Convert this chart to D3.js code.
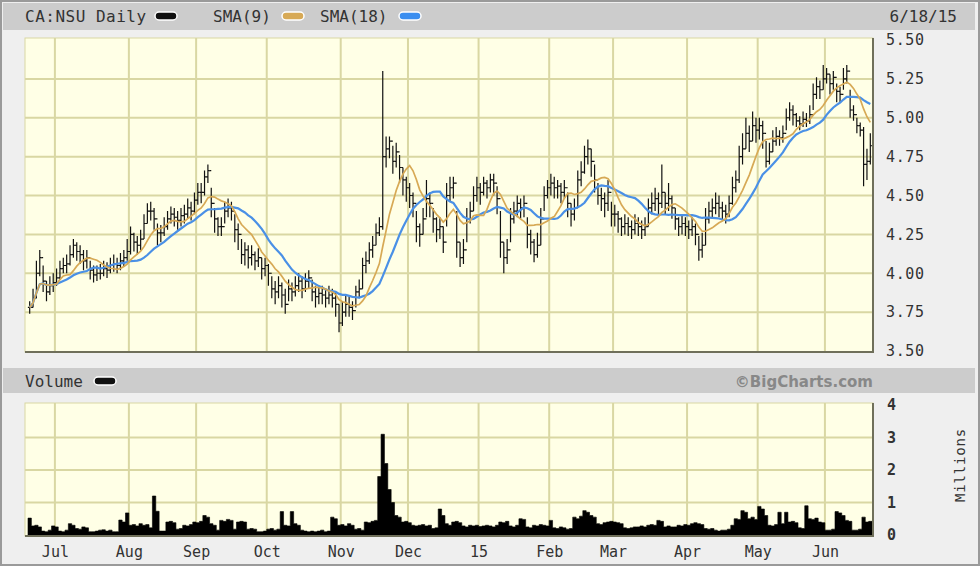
<!DOCTYPE html>
<html><head><meta charset="utf-8">
<script src="https://cdn.jsdelivr.net/npm/d3@7/dist/d3.min.js"></script>
<style>
html,body{margin:0;padding:0;background:#efefef;}
svg{display:block;}
text{font-family:"DejaVu Sans Mono",monospace;}
</style></head>
<body><svg id="c" width="980" height="566"></svg>
<script>
// ---------- DATA ----------
const symbol = "CA:NSU Daily";
const dateLabel = "6/18/15";
const firstDay = "2014-06-19", lastDay = "2015-06-18";
const holidays = ["2014-07-01","2014-08-04","2014-09-01","2014-10-13","2014-12-25","2014-12-26",
                  "2015-01-01","2015-02-16","2015-04-03","2015-05-18"];
const monthLabels = ["Jul","Aug","Sep","Oct","Nov","Dec","15","Feb","Mar","Apr","May","Jun"];
const priceTicks = [3.50,3.75,4.00,4.25,4.50,4.75,5.00,5.25,5.50];
const volumeTicks = [0,1,2,3,4];

const close = [
3.78,3.84,4.00,4.10,3.95,3.88,3.92,3.94,3.97,4.03,
4.05,4.06,4.12,4.18,4.14,4.12,4.08,4.10,4.02,3.99,
4.00,4.00,4.03,4.02,4.05,4.06,4.05,4.08,4.10,4.14,
4.25,4.20,4.18,4.22,4.32,4.40,4.40,4.35,4.26,4.26,
4.30,4.35,4.38,4.36,4.34,4.37,4.38,4.42,4.40,4.47,
4.52,4.52,4.62,4.66,4.45,4.35,4.30,4.30,4.40,4.42,
4.40,4.28,4.25,4.12,4.15,4.10,4.12,4.08,4.10,4.03,
4.05,4.00,3.90,3.88,3.92,3.86,3.80,3.90,3.88,3.92,
3.95,3.90,3.95,3.97,3.88,3.85,3.87,3.86,3.84,3.86,
3.84,3.80,3.68,3.75,3.80,3.78,3.76,3.88,3.90,4.05,
4.08,4.15,4.18,4.26,4.30,4.75,4.80,4.85,4.72,4.78,
4.68,4.60,4.55,4.50,4.45,4.30,4.25,4.35,4.48,4.45,
4.35,4.28,4.30,4.20,4.50,4.55,4.58,4.20,4.10,4.15,
4.35,4.40,4.50,4.55,4.52,4.58,4.55,4.60,4.58,4.48,
4.20,4.10,4.15,4.35,4.40,4.45,4.42,4.45,4.25,4.20,
4.12,4.18,4.35,4.50,4.55,4.58,4.55,4.56,4.52,4.55,
4.45,4.38,4.42,4.60,4.65,4.75,4.80,4.72,4.60,4.50,
4.48,4.45,4.52,4.38,4.38,4.35,4.30,4.32,4.30,4.28,
4.32,4.30,4.28,4.30,4.42,4.45,4.48,4.45,4.52,4.45,
4.48,4.42,4.35,4.30,4.32,4.30,4.28,4.30,4.25,4.15,
4.18,4.35,4.40,4.42,4.45,4.42,4.40,4.38,4.45,4.55,
4.60,4.75,4.80,4.90,4.85,4.95,4.92,4.95,4.90,4.72,
4.78,4.85,4.88,4.87,4.90,5.00,5.05,5.02,4.98,4.96,
4.99,4.98,5.02,5.15,5.20,5.18,5.25,5.28,5.22,5.26,
5.17,5.15,5.25,5.30,5.05,5.02,4.95,4.92,4.70,4.72,
4.82];

const high = [
3.82,3.90,4.08,4.15,4.05,3.95,3.98,4.00,4.03,4.08,
4.10,4.12,4.18,4.22,4.20,4.18,4.15,4.15,4.08,4.05,
4.05,4.06,4.08,4.07,4.10,4.12,4.10,4.13,4.15,4.22,
4.30,4.26,4.24,4.28,4.38,4.45,4.46,4.42,4.32,4.31,
4.36,4.40,4.43,4.42,4.40,4.42,4.44,4.48,4.46,4.52,
4.58,4.58,4.66,4.70,4.55,4.42,4.36,4.36,4.46,4.48,
4.46,4.38,4.32,4.22,4.20,4.18,4.18,4.14,4.16,4.10,
4.10,4.06,3.98,3.95,3.98,3.94,3.90,3.96,3.94,3.98,
4.00,3.98,4.00,4.02,3.96,3.92,3.92,3.92,3.90,3.92,
3.90,3.88,3.80,3.82,3.86,3.85,3.82,3.92,3.96,4.10,
4.14,4.20,4.24,4.32,4.36,5.30,4.88,4.88,4.82,4.84,
4.76,4.68,4.62,4.58,4.52,4.40,4.32,4.42,4.60,4.52,
4.42,4.36,4.36,4.30,4.58,4.62,4.62,4.40,4.20,4.22,
4.42,4.46,4.56,4.62,4.58,4.62,4.60,4.64,4.64,4.56,
4.40,4.20,4.22,4.42,4.46,4.50,4.48,4.50,4.36,4.28,
4.22,4.26,4.42,4.56,4.60,4.64,4.62,4.60,4.58,4.60,
4.52,4.45,4.48,4.66,4.72,4.82,4.86,4.80,4.70,4.58,
4.55,4.52,4.60,4.46,4.44,4.40,4.36,4.38,4.36,4.34,
4.38,4.36,4.34,4.36,4.48,4.52,4.55,4.52,4.70,4.52,
4.58,4.50,4.42,4.36,4.38,4.36,4.34,4.36,4.32,4.24,
4.26,4.42,4.46,4.48,4.52,4.50,4.46,4.44,4.50,4.62,
4.66,4.82,4.90,5.00,4.95,5.04,5.00,5.00,4.98,4.85,
4.84,4.92,4.94,4.92,4.95,5.06,5.10,5.08,5.03,5.01,
5.04,5.03,5.08,5.22,5.26,5.24,5.34,5.32,5.28,5.30,
5.22,5.20,5.32,5.34,5.18,5.08,5.00,4.97,4.94,4.80,
4.90];

const low = [
3.74,3.78,3.84,3.98,3.88,3.82,3.86,3.88,3.92,3.96,
4.00,4.00,4.05,4.10,4.08,4.06,4.02,4.03,3.96,3.94,
3.95,3.96,3.98,3.97,4.00,4.01,4.00,4.02,4.04,4.08,
4.12,4.14,4.12,4.15,4.22,4.32,4.34,4.28,4.18,4.20,
4.24,4.28,4.32,4.30,4.28,4.30,4.32,4.35,4.34,4.38,
4.44,4.45,4.50,4.58,4.36,4.26,4.24,4.24,4.32,4.36,
4.34,4.20,4.15,4.06,4.05,4.03,4.05,4.02,4.04,3.96,
3.98,3.92,3.84,3.80,3.84,3.78,3.74,3.82,3.82,3.85,
3.88,3.84,3.88,3.90,3.82,3.78,3.80,3.80,3.78,3.80,
3.78,3.72,3.62,3.66,3.72,3.72,3.70,3.78,3.84,3.90,
4.00,4.06,4.10,4.18,4.24,4.28,4.68,4.74,4.64,4.68,
4.58,4.50,4.46,4.42,4.36,4.20,4.17,4.25,4.36,4.36,
4.26,4.20,4.22,4.13,4.30,4.46,4.48,4.10,4.04,4.06,
4.20,4.32,4.40,4.46,4.44,4.50,4.48,4.52,4.50,4.38,
4.10,4.00,4.06,4.20,4.32,4.36,4.35,4.36,4.16,4.12,
4.07,4.10,4.18,4.40,4.48,4.50,4.48,4.48,4.45,4.48,
4.36,4.30,4.34,4.42,4.56,4.64,4.70,4.62,4.52,4.44,
4.40,4.36,4.40,4.30,4.30,4.26,4.24,4.25,4.24,4.22,
4.25,4.24,4.22,4.24,4.30,4.38,4.40,4.38,4.42,4.38,
4.40,4.35,4.28,4.24,4.25,4.24,4.22,4.24,4.18,4.08,
4.10,4.18,4.32,4.35,4.38,4.36,4.34,4.32,4.36,4.44,
4.52,4.58,4.70,4.80,4.78,4.85,4.84,4.86,4.80,4.68,
4.70,4.78,4.82,4.82,4.84,4.92,4.98,4.95,4.94,4.92,
4.94,4.94,4.96,5.05,5.12,5.12,5.18,5.22,5.15,5.18,
5.10,5.10,5.18,5.22,5.00,4.98,4.90,4.88,4.56,4.60,
4.70];

// volume in millions of shares
const volume = [
0.52,0.28,0.30,0.25,0.12,0.10,0.15,0.28,0.25,0.12,
0.10,0.15,0.35,0.30,0.20,0.18,0.25,0.22,0.10,0.10,
0.12,0.15,0.16,0.12,0.15,0.10,0.10,0.46,0.40,0.68,
0.30,0.32,0.28,0.35,0.30,0.32,0.22,1.20,0.73,0.12,
0.12,0.40,0.42,0.38,0.18,0.20,0.30,0.28,0.32,0.40,
0.38,0.42,0.60,0.55,0.35,0.30,0.15,0.45,0.42,0.48,
0.45,0.18,0.40,0.42,0.40,0.18,0.20,0.18,0.10,0.10,
0.12,0.18,0.20,0.15,0.18,0.72,0.30,0.28,0.72,0.35,
0.30,0.15,0.12,0.10,0.12,0.10,0.12,0.15,0.10,0.12,
0.55,0.50,0.30,0.32,0.28,0.35,0.30,0.18,0.20,0.15,
0.40,0.38,0.42,0.45,1.80,3.10,2.20,1.40,1.00,0.60,
0.55,0.40,0.42,0.38,0.30,0.28,0.30,0.32,0.28,0.30,
0.20,0.22,0.80,0.60,0.35,0.30,0.40,0.42,0.38,0.28,
0.25,0.30,0.28,0.30,0.26,0.28,0.30,0.28,0.25,0.30,
0.40,0.38,0.42,0.28,0.25,0.30,0.50,0.48,0.25,0.22,
0.30,0.28,0.32,0.30,0.28,0.45,0.22,0.20,0.25,0.22,
0.18,0.20,0.55,0.50,0.58,0.75,0.70,0.60,0.55,0.35,
0.32,0.38,0.40,0.42,0.40,0.38,0.35,0.22,0.20,0.22,
0.25,0.25,0.28,0.25,0.30,0.32,0.30,0.45,0.42,0.25,
0.28,0.25,0.25,0.30,0.28,0.32,0.30,0.35,0.38,0.35,
0.32,0.20,0.18,0.20,0.15,0.12,0.15,0.15,0.18,0.30,
0.50,0.48,0.75,0.70,0.50,0.55,0.48,0.88,0.80,0.60,
0.30,0.28,0.32,0.70,0.35,0.70,0.40,0.42,0.38,0.22,
0.20,0.90,0.50,0.48,0.52,0.40,0.38,0.15,0.15,0.18,
0.72,0.68,0.60,0.45,0.42,0.15,0.15,0.18,0.55,0.40,
0.42];

// ---------- BUILD ----------
const parse = d3.timeParse("%Y-%m-%d"), fmt = d3.timeFormat("%Y-%m-%d");
const hol = new Set(holidays);
let dates = d3.timeDay.range(parse(firstDay), d3.timeDay.offset(parse(lastDay), 1))
  .filter(d => d.getDay() !== 0 && d.getDay() !== 6 && !hol.has(fmt(d)));
const N = Math.min(dates.length, close.length);
dates = dates.slice(0, N);

function sma(arr, n) {
  return arr.map((_, i) => d3.mean(arr.slice(Math.max(0, i - n + 1), i + 1)));
}
const sma9 = sma(close.slice(0, N), 9);
const sma18 = sma(close.slice(0, N), 18);

const svg = d3.select("#c");
const W = 980, H = 566;
const PL = 25, PR = 873, PT = 38, PB = 352;
const VT = 403, VB = 536;

const x = d3.scaleBand().domain(d3.range(N)).range([28, 872]).padding(0);
const bw = x.bandwidth();
const cx = i => x(i) + bw / 2;
const y = d3.scaleLinear().domain([3.5, 5.5]).range([351, 40]);
const yv = d3.scaleLinear().domain([0, 4]).range([535, 405]);

const monthIdx = [];
for (let i = 1; i < N; i++) if (dates[i].getMonth() !== dates[i - 1].getMonth()) monthIdx.push(i);

// background and frame
svg.append("rect").attr("x", 0).attr("y", 0).attr("width", W).attr("height", H).attr("fill", "#efefef");
svg.append("rect").attr("x", 3).attr("y", 3).attr("width", 972).attr("height", 27).attr("fill", "#cccccc");
svg.append("rect").attr("x", 3).attr("y", 368).attr("width", 972).attr("height", 25).attr("fill", "#cccccc");
svg.append("rect").attr("x", 1).attr("y", 1).attr("width", W - 2).attr("height", H - 2)
  .attr("fill", "none").attr("stroke", "#9a9a9a").attr("stroke-width", 2);

const grid = "#d9d7a3", bg = "#ffffe6";

// ---- price pane ----
const pp = svg.append("g");
pp.append("rect").attr("x", PL).attr("y", PT).attr("width", PR - PL).attr("height", PB - PT)
  .attr("fill", bg).attr("stroke", grid).attr("stroke-width", 1);
pp.append("g").selectAll("line").data(priceTicks.slice(1, -1)).join("line")
  .attr("x1", PL).attr("x2", PR).attr("y1", d => y(d)).attr("y2", d => y(d))
  .attr("stroke", grid).attr("stroke-width", 2);
pp.append("g").selectAll("line").data(monthIdx).join("line")
  .attr("x1", d => x(d)).attr("x2", d => x(d)).attr("y1", PT).attr("y2", PB)
  .attr("stroke", grid).attr("stroke-width", 2);

// HLC bars (open tick = previous close)
const bars = pp.append("g").attr("stroke", "#111").attr("stroke-width", 1.2).attr("fill", "none");
bars.selectAll("path").data(d3.range(N)).join("path")
  .attr("d", i => {
    const c = cx(i), o = i > 0 ? close[i - 1] : close[i];
    return `M${c},${y(high[i])}V${y(low[i])}M${c - 1.8},${y(o)}H${c}M${c},${y(close[i])}H${c + 1.8}`;
  });

const line = d3.line().x((d, i) => cx(i)).y(d => y(d));
pp.append("path").datum(sma18).attr("d", line).attr("fill", "none")
  .attr("stroke", "#4a90e6").attr("stroke-width", 2.2);
pp.append("path").datum(sma9).attr("d", line).attr("fill", "none")
  .attr("stroke", "#d7a955").attr("stroke-width", 1.7);

pp.append("path").attr("d", `M${PL},${PB}H${PR}V${PT}`).attr("fill", "none")
  .attr("stroke", "#6f6f5a").attr("stroke-width", 2);

const yAxis = d3.axisRight(y).tickValues(priceTicks).tickFormat(d3.format(".2f")).tickSize(0).tickPadding(13);
const ya = svg.append("g").attr("transform", `translate(${PR},0)`).call(yAxis);
ya.select(".domain").remove();
ya.selectAll("text").attr("font-family", "DejaVu Sans Mono").attr("font-size", 15)
  .attr("fill", "#333").attr("letter-spacing", 0.6);

// ---- volume pane ----
const vp = svg.append("g");
vp.append("rect").attr("x", PL).attr("y", VT).attr("width", PR - PL).attr("height", VB - VT)
  .attr("fill", bg).attr("stroke", grid).attr("stroke-width", 1);
vp.append("g").selectAll("line").data(volumeTicks.slice(1, -1)).join("line")
  .attr("x1", PL).attr("x2", PR).attr("y1", d => yv(d)).attr("y2", d => yv(d))
  .attr("stroke", grid).attr("stroke-width", 2);
vp.append("g").selectAll("line").data(monthIdx).join("line")
  .attr("x1", d => x(d)).attr("x2", d => x(d)).attr("y1", VT).attr("y2", VB)
  .attr("stroke", grid).attr("stroke-width", 2);
const vArea = d3.area().curve(d3.curveStepAfter)
  .x((d, i) => i < N ? x(i) : x(N - 1) + bw).y0(yv(0)).y1(d => yv(d));
vp.append("path").datum(volume.slice(0, N).concat([volume[N - 1]])).attr("d", vArea)
  .attr("fill", "#000").attr("stroke", "#000").attr("stroke-width", 0.6).attr("stroke-linejoin", "miter");
vp.append("path").attr("d", `M${PL},${VB}H${PR}V${VT}`).attr("fill", "none")
  .attr("stroke", "#6f6f5a").attr("stroke-width", 2);

const vAxis = d3.axisRight(yv).tickValues(volumeTicks).tickFormat(d3.format("d")).tickSize(0).tickPadding(14);
const va = svg.append("g").attr("transform", `translate(${PR},0)`).call(vAxis);
va.select(".domain").remove();
va.selectAll("text").attr("font-family", "DejaVu Sans Mono").attr("font-size", 15)
  .attr("font-weight", "bold").attr("fill", "#333");

const xAxis = d3.axisBottom(d3.scaleLinear().domain([0, 1]).range([0, 1]))
  .tickValues(monthIdx.map(i => x(i))).tickFormat((d, k) => monthLabels[k]).tickSize(0).tickPadding(10);
const xa = svg.append("g").attr("transform", `translate(0,${VB})`).call(xAxis);
xa.select(".domain").remove();
xa.selectAll("text").attr("font-family", "DejaVu Sans Mono").attr("font-size", 15).attr("fill", "#333");

svg.append("text").attr("transform", "translate(965,465) rotate(-90)").attr("text-anchor", "middle")
  .attr("font-size", 14).attr("fill", "#333").attr("letter-spacing", 0.8).text("Millions");

// ---- headers / legends ----
const hdr = svg.append("g").attr("font-size", 16).attr("fill", "#333");
hdr.append("text").attr("x", 25).attr("y", 22).attr("letter-spacing", 0.5).text(symbol);
function swatch(xx, yy, col) {
  svg.append("rect").attr("x", xx).attr("y", yy - 4).attr("width", 22).attr("height", 8).attr("rx", 4)
    .attr("fill", col).attr("stroke", "#fff").attr("stroke-width", 1.5);
}
swatch(155, 16, "#111");
hdr.append("text").attr("x", 213).attr("y", 22).text("SMA(9)");
swatch(282, 16, "#d7a955");
hdr.append("text").attr("x", 320).attr("y", 22).text("SMA(18)");
swatch(399, 16, "#3a8ef0");
hdr.append("text").attr("x", 957).attr("y", 22).attr("text-anchor", "end").text(dateLabel);

svg.append("text").attr("x", 25).attr("y", 387).attr("font-size", 16).attr("fill", "#333").text("Volume");
swatch(94, 381, "#111");
svg.append("text").attr("x", 873).attr("y", 387).attr("text-anchor", "end")
  .attr("font-weight", "bold").attr("font-size", 15)
  .attr("fill", "#888").style("font-family", "'DejaVu Sans', sans-serif").text("©BigCharts.com");
</script></body></html>
